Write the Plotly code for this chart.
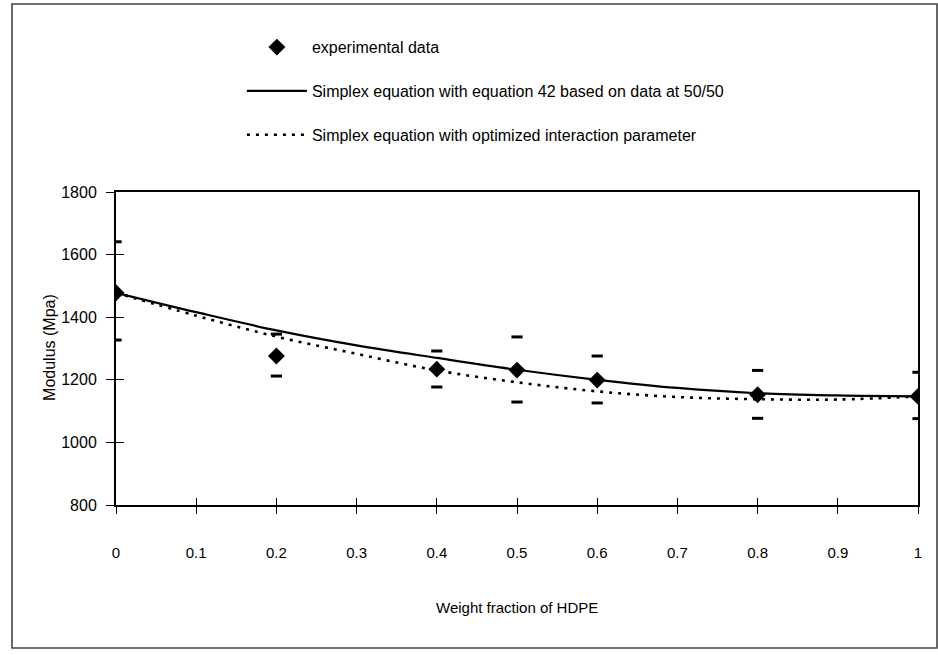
import plotly.graph_objects as go

# Experimental modulus of the blend vs. HDPE weight fraction
x_exp = [0.0, 0.2, 0.4, 0.5, 0.6, 0.8, 1.0]
mod_exp = [1478, 1276, 1234, 1231, 1199, 1152, 1147]
mod_hi = [1641, 1346, 1292, 1337, 1276, 1230, 1224]
mod_lo = [1327, 1212, 1177, 1129, 1126, 1077, 1076]

# Model curves
x_model = [0.0, 0.1, 0.2, 0.3, 0.4, 0.5, 0.6, 0.7, 0.8, 0.9, 1.0]
simplex_eq42 = [1478, 1416, 1358, 1310, 1270, 1232, 1200, 1174, 1157, 1150, 1147]
simplex_opt = [1478, 1405, 1338, 1283, 1230, 1192, 1163, 1145, 1138, 1137, 1147]

x_ticks = [0, 0.1, 0.2, 0.3, 0.4, 0.5, 0.6, 0.7, 0.8, 0.9, 1]
x_ticktext = ["0", "0.1", "0.2", "0.3", "0.4", "0.5", "0.6", "0.7", "0.8", "0.9", "1"]
y_ticks = [800, 1000, 1200, 1400, 1600, 1800]

FONT = "Liberation Sans, Arial, sans-serif"

fig = go.Figure()

fig.add_trace(go.Scatter(
    x=x_exp, y=mod_exp, mode="markers", name="experimental data",
    marker=dict(symbol="diamond", size=13, color="black"),
    legendgroup="a",
))
fig.add_trace(go.Scatter(
    x=x_model, y=simplex_eq42, mode="lines",
    name="Simplex equation with equation 42 based on data at 50/50",
    line=dict(color="black", width=2.2, shape="spline"),
    legendgroup="b",
))
fig.add_trace(go.Scatter(
    x=x_model, y=simplex_opt, mode="lines",
    name="Simplex equation with optimized interaction parameter",
    line=dict(color="black", width=2.6, dash="3px,6px", shape="spline"),
    legendgroup="c",
))
# Error limits drawn as short caps only
for vals in (mod_hi, mod_lo):
    fig.add_trace(go.Scatter(
        x=x_exp, y=vals, mode="markers", showlegend=False, hoverinfo="skip",
        marker=dict(symbol="line-ew", size=8, line=dict(color="black", width=3)),
    ))

# Invisible trace holding the overlay axes used for inward tick marks
fig.add_trace(go.Scatter(x=[None], y=[None], xaxis="x2", yaxis="y2",
                         showlegend=False, hoverinfo="skip"))

fig.update_layout(
    width=938, height=655,
    margin=dict(l=116, r=20, t=192, b=150),
    paper_bgcolor="white", plot_bgcolor="white",
    font=dict(family=FONT, color="black"),
    showlegend=True,
    legend=dict(
        x=0.157, y=1.517, xanchor="left", yanchor="top",
        font=dict(family=FONT, size=16, color="black"),
        tracegroupgap=20, itemwidth=60, bgcolor="rgba(0,0,0,0)",
    ),
    xaxis=dict(
        range=[0, 1], tickvals=x_ticks, ticktext=x_ticktext,
        showgrid=False, zeroline=False,
        showline=True, linecolor="black", linewidth=2, mirror=True,
        ticks="outside", ticklen=7, tickwidth=1.2, tickcolor="black",
        tickfont=dict(family=FONT, size=15, color="black"),
        ticklabelstandoff=26,
    ),
    yaxis=dict(
        range=[800, 1800], tickvals=y_ticks,
        showgrid=False, zeroline=False,
        showline=True, linecolor="black", linewidth=2, mirror=True,
        ticks="outside", ticklen=8, tickwidth=1.2, tickcolor="black",
        tickfont=dict(family=FONT, size=16, color="black"),
        ticklabelstandoff=6,
    ),
    xaxis2=dict(
        overlaying="x", anchor="y2", range=[0, 1], tickvals=x_ticks,
        showticklabels=False, showgrid=False, zeroline=False, showline=False,
        ticks="inside", ticklen=7, tickwidth=1.2, tickcolor="black",
    ),
    yaxis2=dict(
        overlaying="y", anchor="x2", range=[800, 1800], tickvals=y_ticks,
        showticklabels=False, showgrid=False, zeroline=False, showline=False,
        ticks="inside", ticklen=8, tickwidth=1.2, tickcolor="black",
    ),
    annotations=[
        dict(text="Modulus (Mpa)", xref="paper", yref="paper",
             x=-0.0823, y=0.505, xanchor="center", yanchor="middle",
             textangle=-90, showarrow=False,
             font=dict(family=FONT, size=16, color="black")),
        dict(text="Weight fraction of HDPE", xref="paper", yref="paper",
             x=0.5, y=-0.329, xanchor="center", yanchor="middle",
             showarrow=False,
             font=dict(family=FONT, size=15, color="black")),
    ],
    shapes=[
        # outer border of the figure
        dict(type="rect", xref="paper", yref="paper",
             x0=-0.1297, x1=1.0237, y0=-0.4569, y1=1.6006,
             line=dict(color="#444444", width=1.6)),
    ],
)

fig.write_html("out.html")
